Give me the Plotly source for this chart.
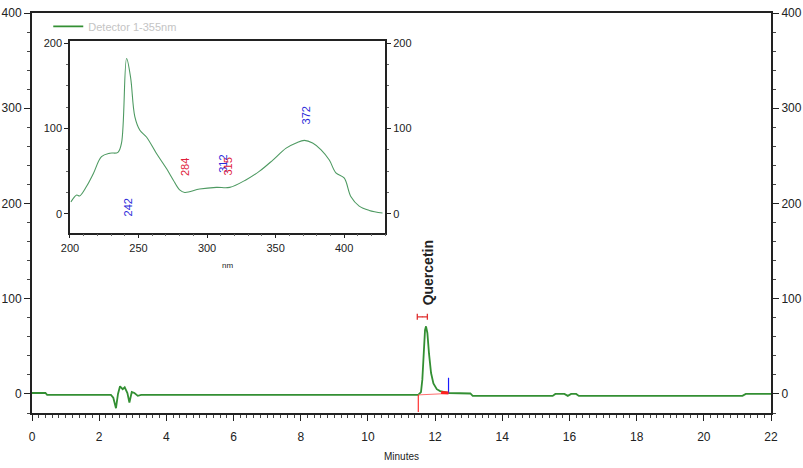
import plotly.graph_objects as go

# ---- Main chromatogram (minutes vs mAU) ----
time_min = [0, 0.4, 0.45, 2.35, 2.42, 2.5, 2.56, 2.62, 2.7, 2.76, 2.84, 2.9, 2.97, 3.05, 3.15, 3.25,
            11.5, 11.58, 11.62, 11.66, 11.7, 11.73, 11.77, 11.82, 11.88, 11.95, 12.05, 12.15, 12.3, 12.4,
            13.05, 13.12, 15.5, 15.58, 15.85, 15.95, 16.05, 16.2, 16.28, 21.15, 21.25, 22]
signal = [1, 1, -1, -1, -4, -15, 0, 8, 5, 7, 1, -9, 2, 1, -2, -1,
          -1, 2, 15, 45, 67, 71, 64, 42, 22, 11, 5, 3, 1.5, 1,
          0.5, -2, -2, 0, 0, -2, 0, 0, -2, -2, 0, 0]

# ---- UV spectrum inset (nm vs mAU) ----
wl_nm = [200.7, 204.9, 207, 212, 217, 223, 229, 235, 237.6, 241.3, 244.2, 247.3, 251, 255.8, 263,
         270.4, 275.2, 280, 283.7, 294.6, 306.8, 316.5, 328.6, 338.3, 348, 357.7, 365, 371, 377,
         383.2, 389.2, 394, 400, 405, 411, 418.3, 428]
absorb = [14, 22, 21, 32, 47, 67, 71, 72, 83, 182, 160, 114, 98, 90, 71,
          53, 40, 28, 25, 29, 31, 31, 40, 50, 63, 77, 83, 86, 83,
          75, 63, 48, 42, 20, 9, 4, 1]

spec_labels = ["242", "284", "312", "315", "372"]
spec_label_x = [242, 284, 312, 315, 372]
spec_label_y = [7, 55, 58, 55, 115]
spec_label_colors = ["#2b2bd9", "#e0203a", "#2b2bd9", "#e0203a", "#2b2bd9"]

# ---- Peak annotation values ----
peak_name = "Quercetin"
peak_time = 11.8
peak_label_y = 127
peak_start, peak_end = 11.5, 12.4
base_start_val, base_end_val = -1, 0.5
marker_time, marker_val, marker_halfwidth = 11.62, 81, 0.15

FONT = "Liberation Sans, Arial, sans-serif"
GREEN = "#338f33"

fig = go.Figure()

fig.add_trace(go.Scatter(x=time_min, y=signal, mode="lines", name="Detector 1-355nm",
                         line=dict(color=GREEN, width=1.8), xaxis="x", yaxis="y"))

# integration baseline + start/end markers
fig.add_trace(go.Scatter(x=[peak_start, peak_end], y=[base_start_val, base_end_val], mode="lines",
                         line=dict(color="#ff7070", width=1), showlegend=False, hoverinfo="skip"))
fig.add_trace(go.Scatter(x=[peak_start, peak_start], y=[base_start_val, -19], mode="lines",
                         line=dict(color="#ff3030", width=1.2), showlegend=False, hoverinfo="skip"))
fig.add_trace(go.Scatter(x=[peak_end, peak_end], y=[base_end_val, 17], mode="lines",
                         line=dict(color="#1a1aff", width=1.2), showlegend=False, hoverinfo="skip"))
fig.add_trace(go.Scatter(x=[12.18, peak_end], y=[1.5, 1], mode="lines",
                         line=dict(color="#ff2020", width=3), showlegend=False, hoverinfo="skip"))
fig.add_trace(go.Scatter(x=[marker_time], y=[marker_val], mode="markers",
                         marker=dict(size=1, color="#e03030"),
                         error_x=dict(type="constant", value=marker_halfwidth, color="#e03030",
                                      thickness=1.3, width=3),
                         showlegend=False, hoverinfo="skip"))

# right-side axis dummy trace
fig.add_trace(go.Scatter(x=[0], y=[0], mode="markers", marker=dict(opacity=0),
                         xaxis="x", yaxis="y3", showlegend=False, hoverinfo="skip"))

# inset spectrum
fig.add_trace(go.Scatter(x=wl_nm, y=absorb, mode="lines", line=dict(color="#4e9a62", width=1.1),
                         xaxis="x2", yaxis="y2", showlegend=False, line_shape="spline"))
fig.add_trace(go.Scatter(x=[200], y=[0], mode="markers", marker=dict(opacity=0),
                         xaxis="x2", yaxis="y4", showlegend=False, hoverinfo="skip"))

annotations = []
for t, xv, yv, c in zip(spec_labels, spec_label_x, spec_label_y, spec_label_colors):
    annotations.append(dict(x=xv, y=yv, xref="x2", yref="y2", text=t, textangle=-90, showarrow=False,
                            font=dict(family=FONT, size=11, color=c)))
annotations.append(dict(x=peak_time, y=peak_label_y, xref="x", yref="y", text="<b>" + peak_name + "</b>",
                        textangle=-90, showarrow=False, font=dict(family=FONT, size=14, color="#222222")))

common_tick = dict(ticks="outside", ticklen=6, tickwidth=1, tickcolor="#222",
                   linecolor="#222", showgrid=False, zeroline=False, automargin=False,
                   tickfont=dict(family=FONT, size=12, color="#222"))
inset_tick = dict(ticks="outside", ticklen=4, tickcolor="#222", linecolor="#222", showgrid=False,
                  zeroline=False, automargin=False, tickfont=dict(family=FONT, size=11, color="#222"))

fig.update_layout(
    width=803, height=468,
    margin=dict(l=32, r=32, t=13, b=55, autoexpand=False),
    paper_bgcolor="white", plot_bgcolor="white",
    font=dict(family=FONT, color="#222"),
    annotations=annotations,
    legend=dict(x=0.022, y=1.003, xanchor="left", yanchor="top", bgcolor="rgba(0,0,0,0)",
                font=dict(family=FONT, size=11, color="#c4c4c4")),
    xaxis=dict(range=[0, 22], dtick=2, showline=True, linewidth=2, mirror=True,
               title=dict(text="Minutes", font=dict(family=FONT, size=10), standoff=10),
               ticklabelstandoff=6,
               minor=dict(ticks="outside", ticklen=3, dtick=0.2, tickcolor="#444"),
               anchor="y", **common_tick),
    yaxis=dict(range=[-20, 400], dtick=100, showline=True, linewidth=2,
               minor=dict(ticks="outside", ticklen=3, dtick=20, tickcolor="#444"),
               anchor="x", **common_tick),
    yaxis3=dict(range=[-20, 400], dtick=100, showline=True, linewidth=2, overlaying="y", side="right",
                anchor="x",
                minor=dict(ticks="outside", ticklen=3, dtick=20, tickcolor="#444"),
                **common_tick),
    xaxis2=dict(domain=[0.0514, 0.478], range=[200, 430], dtick=50, showline=True, linewidth=1.5,
                mirror=True, anchor="y2",
                title=dict(text="nm", font=dict(family=FONT, size=8), standoff=10),
                minor=dict(ticks="outside", ticklen=2, dtick=10, tickcolor="#666"),
                **inset_tick),
    yaxis2=dict(domain=[0.451, 0.929], range=[-22, 202], dtick=100, showline=True, linewidth=1.5,
                anchor="x2",
                minor=dict(ticks="outside", ticklen=2, dtick=25, tickcolor="#666"),
                **inset_tick),
    yaxis4=dict(range=[-22, 202], dtick=100, showline=True, linewidth=1.5, overlaying="y2",
                side="right", anchor="x2",
                minor=dict(ticks="outside", ticklen=2, dtick=25, tickcolor="#666"),
                **inset_tick),
)

fig.write_html("out.html", config={"displayModeBar": False},
               post_script="document.body.style.margin='0';document.body.style.overflow='hidden';")
